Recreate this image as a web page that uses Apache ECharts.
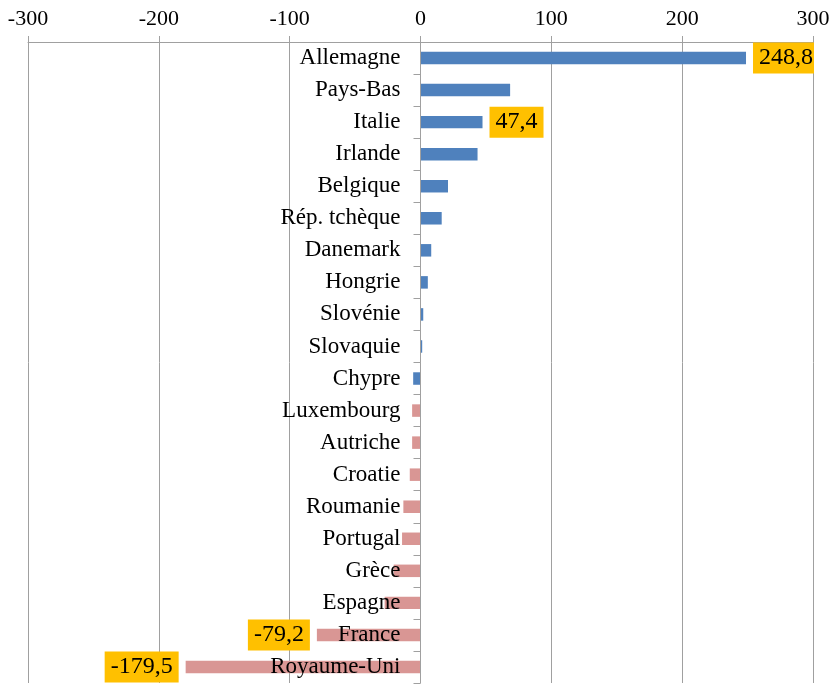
<!DOCTYPE html>
<html>
<head>
<meta charset="utf-8">
<script src="https://cdn.jsdelivr.net/npm/echarts@6/dist/echarts.min.js"></script>
<style>
html,body{margin:0;padding:0;background:#fff;}
#chart{width:833px;height:684px;}
</style>
</head>
<body>
<div id="chart"></div>
<script>
var categories = ["Allemagne","Pays-Bas","Italie","Irlande","Belgique","Rép. tchèque","Danemark","Hongrie","Slovénie","Slovaquie","Chypre","Luxembourg","Autriche","Croatie","Roumanie","Portugal","Grèce","Espagne","France","Royaume-Uni"];
var values = [248.8, 68.5, 47.4, 43.6, 21.0, 16.2, 8.2, 5.6, 2.1, 1.3, -5.6, -6.4, -6.4, -8.2, -13.1, -14.1, -20.5, -27.4, -79.2, -179.5];
var blueCountries = ["Allemagne","Pays-Bas","Italie","Irlande","Belgique","Rép. tchèque","Danemark","Hongrie","Slovénie","Slovaquie","Chypre"];
var labelledCountries = ["Allemagne","Italie","France","Royaume-Uni"];
var tickValues = [-300,-200,-100,0,100,200,300];

var BLUE = '#4F81BD', PINK = '#D99694', GOLD = '#FFC000', GRID = '#A0A0A0';
var GRID_LEFT = 28, GRID_RIGHT = 20, W = 833;

var data = categories.map(function(c, i){
  var v = values[i];
  var item = {
    value: v,
    itemStyle: { color: blueCountries.indexOf(c) >= 0 ? BLUE : PINK }
  };
  if (labelledCountries.indexOf(c) >= 0) {
    item.label = {
      show: true,
      position: v >= 0 ? 'right' : 'left',
      distance: 7,
      formatter: function(p){ return p.value.toFixed(1).replace('.', ','); },
      backgroundColor: GOLD,
      color: '#000',
      fontFamily: 'Liberation Serif',
      fontSize: 24,
      lineHeight: 24,
      padding: c === 'Allemagne' ? [4, 1, 3, 6] : [4, 6, 3, 6]
    };
  }
  return item;
});

// place the category axis at value 0 (position derived from the value axis range)
var xmin = tickValues[0], xmax = tickValues[tickValues.length - 1];
var plotW = W - GRID_LEFT - GRID_RIGHT;
var zeroOffset = -plotW * (0 - xmin) / (xmax - xmin);

var chart = echarts.init(document.getElementById('chart'), null, {renderer: 'canvas'});
chart.setOption({
  animation: false,
  backgroundColor: '#fff',
  grid: { left: GRID_LEFT, right: GRID_RIGHT, top: 42, bottom: 1, containLabel: false, outerBoundsMode: 'none' },
  xAxis: {
    type: 'value',
    position: 'top',
    min: xmin,
    max: xmax,
    interval: 100,
    axisLine: { show: true, lineStyle: { color: GRID, width: 1 } },
    axisTick: { show: true, inside: false, length: 6, lineStyle: { color: GRID } },
    axisLabel: { margin: 12, color: '#000', fontFamily: 'Liberation Serif', fontSize: 22 },
    splitLine: { show: true, lineStyle: { color: GRID, width: 1 } }
  },
  yAxis: {
    type: 'category',
    inverse: true,
    data: categories,
    position: 'left',
    offset: zeroOffset,
    z: 5,
    axisLine: { show: true, onZero: false, lineStyle: { color: GRID, width: 1 } },
    axisTick: { show: true, inside: false, length: 7, alignWithLabel: false, lineStyle: { color: GRID } },
    axisLabel: { margin: 20, color: '#000', fontFamily: 'Liberation Serif', fontSize: 23 },
    splitLine: { show: false }
  },
  series: [{
    type: 'bar',
    data: data,
    barWidth: '39%',
    label: { show: false }
  }]
});
</script>
</body>
</html>
